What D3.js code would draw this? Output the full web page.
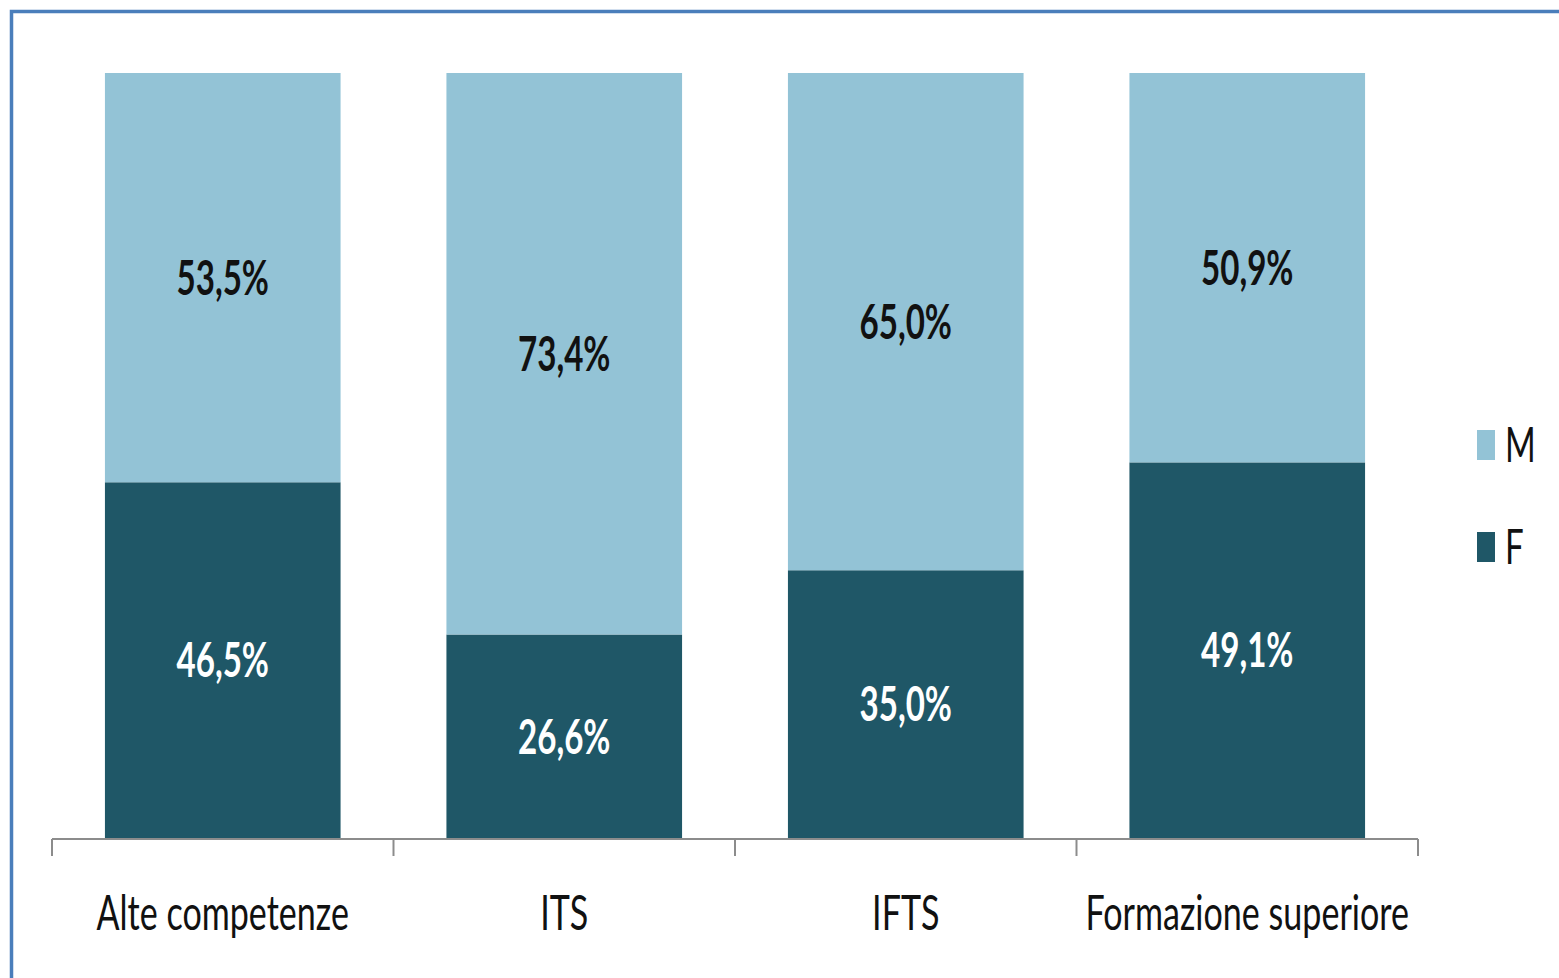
<!DOCTYPE html>
<html>
<head>
<meta charset="utf-8">
<script src="https://cdn.jsdelivr.net/npm/d3@7.9.0/dist/d3.min.js"></script>
<style>
  html, body { margin: 0; padding: 0; background: #fff; }
  svg { display: block; }
  text { font-family: Lato, "Open Sans", sans-serif; }
</style>
</head>
<body>
<svg id="chart" width="1559" height="978"></svg>
<script>
// Data (percentages, F on the bottom, M on top)
const categories = ['Alte competenze', 'ITS', 'IFTS', 'Formazione superiore'];
const valuesF = [46.5, 26.6, 35.0, 49.1];
const valuesM = [53.5, 73.4, 65.0, 50.9];
const seriesNames = ['M', 'F'];

const colors = { M: '#93c3d6', F: '#1f5767' };
const squeeze = 0.69; // the original picture is horizontally compressed

const svg = d3.select('#chart');

// blue frame (only top and left are inside the picture)
svg.append('rect')
    .attr('x', 11.5).attr('y', 11.5)
    .attr('width', 1600).attr('height', 1000)
    .attr('fill', 'none')
    .attr('stroke', '#4a7ebb')
    .attr('stroke-width', 3.5);

const x = d3.scaleBand()
    .domain(categories)
    .range([52, 1418])
    .paddingInner(0.31)
    .paddingOuter(0.155);

const y = d3.scaleLinear().domain([0, 100]).range([838, 73]);

// stack the two series
const rows = categories.map((c, i) => ({ cat: c, F: valuesF[i], M: valuesM[i] }));
const stacked = d3.stack().keys(['F', 'M'])(rows);

stacked.forEach(layer => {
    const g = svg.append('g');
    g.selectAll('rect')
        .data(layer)
        .join('rect')
        .attr('x', d => x(d.data.cat))
        .attr('width', x.bandwidth())
        .attr('y', d => y(d[1]))
        .attr('height', d => y(d[0]) - y(d[1]))
        .attr('fill', colors[layer.key]);

    // value labels in the middle of each segment
    g.selectAll('text')
        .data(layer)
        .join('text')
        .attr('transform', d => `translate(${x(d.data.cat) + x.bandwidth() / 2},${(y(d[0]) + y(d[1])) / 2}) scale(${squeeze},1)`)
        .attr('text-anchor', 'middle')
        .attr('dy', '0.36em')
        .attr('font-size', 48)
        .attr('font-weight', 'bold')
        .attr('fill', layer.key === 'F' ? '#ffffff' : '#111111')
        .text(d => d3.format('.1f')(d.data[layer.key]).replace('.', ',') + '%');
});

// category axis: line + ticks at category boundaries
const axis = svg.append('g');
const [x0, x1] = x.range();
axis.append('line')
    .attr('x1', x0).attr('x2', x1)
    .attr('y1', y(0) + 1).attr('y2', y(0) + 1)
    .attr('stroke', '#8c8c8c').attr('stroke-width', 2);
d3.range(categories.length + 1).forEach(i => {
    const tx = x0 + i * x.step();
    axis.append('line')
        .attr('x1', tx).attr('x2', tx)
        .attr('y1', y(0) + 1).attr('y2', y(0) + 18)
        .attr('stroke', '#8c8c8c').attr('stroke-width', 2);
});
axis.selectAll('text.cat')
    .data(categories)
    .join('text')
    .attr('class', 'cat')
    .attr('transform', d => `translate(${x(d) + x.bandwidth() / 2},930) scale(0.71,1)`)
    .attr('text-anchor', 'middle')
    .attr('font-size', 48)
    .attr('fill', '#111')
    .text(d => d);

// legend
const legend = svg.append('g');
seriesNames.forEach((s, i) => {
    const ly = 430 + i * 102;
    legend.append('rect')
        .attr('x', 1477).attr('y', ly)
        .attr('width', 18).attr('height', 30)
        .attr('fill', colors[s]);
    legend.append('text')
        .attr('transform', `translate(1505,${ly + 32}) scale(${squeeze},1)`)
        .attr('font-size', 48)
        .attr('fill', '#111')
        .text(s);
});
</script>
</body>
</html>
